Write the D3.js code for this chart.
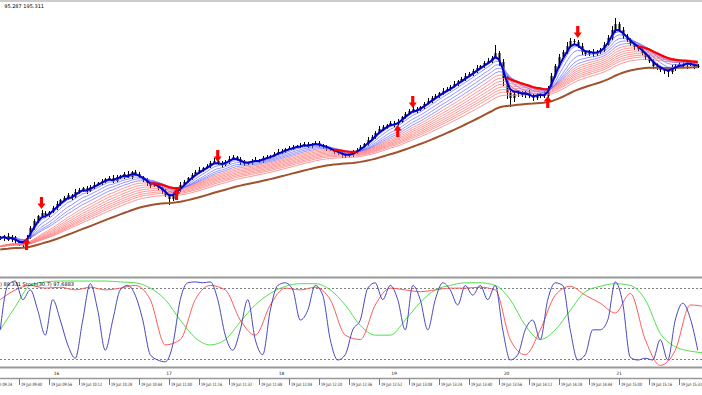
<!DOCTYPE html>
<html>
<head>
<meta charset="utf-8">
<script src="https://cdn.jsdelivr.net/npm/d3@7"></script>
<style>
  body { margin: 0; background: #fff; }
  svg { display: block; }
</style>
</head>
<body>
<script>
var W = 702, H = 395;

// bar closes (2 minute bars starting 09:30)
var closes = [
  195.127,195.129,195.125,195.128,195.124,195.121,195.122,195.127,195.137,195.144,
  195.149,195.152,195.150,195.153,195.157,195.161,195.165,195.167,195.170,195.168,
  195.173,195.175,195.177,195.174,195.178,195.180,195.182,195.184,195.186,195.187,
  195.184,195.188,195.189,195.191,195.188,195.193,195.191,195.188,195.185,195.182,
  195.179,195.181,195.177,195.174,195.170,195.166,195.170,195.175,195.180,195.183,
  195.187,195.190,195.193,195.195,195.197,195.199,195.202,195.204,195.202,195.200,
  195.203,195.206,195.208,195.206,195.203,195.201,195.202,195.204,195.205,195.204,
  195.207,195.208,195.209,195.211,195.213,195.214,195.216,195.217,195.218,195.219,
  195.219,195.221,195.219,195.221,195.222,195.220,195.218,195.217,195.215,195.213,
  195.212,195.210,195.209,195.210,195.212,195.215,195.218,195.221,195.225,195.228,
  195.232,195.236,195.238,195.240,195.242,195.241,195.243,195.248,195.251,195.254,
  195.256,195.255,195.258,195.261,195.264,195.267,195.269,195.272,195.274,195.276,
  195.278,195.281,195.284,195.286,195.289,195.291,195.294,195.297,195.299,195.302,
  195.304,195.307,195.312,195.303,195.287,195.272,195.267,195.271,195.273,195.270,
  195.272,195.269,195.267,195.270,195.271,195.269,195.277,195.289,195.299,195.308,
  195.313,195.319,195.324,195.323,195.319,195.313,195.311,195.313,195.311,195.313,
  195.315,195.320,195.327,195.335,195.341,195.335,195.329,195.325,195.321,195.318,
  195.316,195.312,195.308,195.304,195.299,195.297,195.295,195.294,195.293,195.297,
  195.299,195.301,195.300,195.303,195.301,195.299,195.299
];
// upper / lower wick length above / below the body, in points (0.001)
var wickHi = [
  2,1,3,2,1,2,1,3,2,2, 1,3,2,1,2,3,1,2,2,1, 3,2,1,2,2,3,1,2,1,2, 3,2,1,2,3,1,2,2,1,2,
  1,2,2,1,2,1,2,1,3,2, 1,2,2,3,1,2,2,3,1,2, 2,3,2,1,2,2,1,2,3,1, 2,2,1,2,3,2,1,2,2,1,
  3,2,2,1,2,2,1,2,1,2, 2,1,2,1,3,2,2,1,3,2, 2,3,2,1,2,2,3,1,2,2, 3,2,1,2,3,2,2,1,3,2,
  2,3,1,2,3,2,2,3,1,2, 3,2,8,2,3,2,2,3,2,1, 2,3,2,2,1,3,2,3,2,3, 2,4,3,2,2,3,2,2,3,2,
  2,3,3,4,6,2,3,2,2,3, 2,2,1,2,2,3,2,1,2,3, 2,2,3,2,1,2,2
];
var wickLo = [
  2,3,1,2,3,2,4,2,1,2, 2,1,3,2,1,2,2,1,2,3, 1,2,2,3,1,2,1,2,2,1, 2,1,2,3,1,2,2,1,2,3,
  2,1,2,3,2,6,2,1,2,2, 1,2,1,2,2,1,2,1,2,3, 1,2,1,2,3,2,1,2,1,2, 2,1,2,1,1,2,2,1,2,1,
  2,1,2,2,1,2,2,3,1,2, 2,3,2,1,2,1,2,1,2,1, 2,1,2,2,1,3,2,1,2,1, 2,3,1,2,1,2,1,2,2,1,
  2,1,2,1,2,1,2,2,1,2, 1,2,1,4,8,6,9,4,3,2, 3,2,3,2,3,2,2,1,2,2, 1,2,2,3,2,3,2,2,3,2,
  2,2,1,2,3,2,3,2,2,3, 2,2,3,2,3,2,2,3,5,2, 3,2,2,4,2,3,2
];
var firstBar = "09:30";
var barMinutes = 2;

// signal arrows
var signalBars = [7, 11, 47, 58, 106, 110, 146, 154];
var signalDir = ["up", "down", "up", "down", "up", "down", "up", "down"];
var signalPrice = [195.127, 195.156, 195.177, 195.203, 195.240, 195.257, 195.269, 195.327];

// moving average periods, and their values at the left edge
var bluePeriods = [4, 6, 9, 12, 15];
var blueFast = 3;
var redPeriods = [21, 24, 27, 30, 33, 36, 40];
var redFast = 18;
var brownPeriod = 55;
var redStart = 195.118;
var brownStart = 195.115;

// oscillator (lower window), main line every 4 min, others every 8 min
var oscMain = [
  43,93,98,77,88,65,37,77,54,26, 11,54,95,65,20,54,88,93,82,54,
  15,9,7,26,77,96,97,96,97,77, 37,20,43,77,32,15,65,93,96,88,
  54,65,93,82,32,9,15,43,54,90, 96,77,93,77,43,93,77,43,77,96,
  88,71,93,82,93,77,93,43,9,15, 43,54,32,77,96,93,43,9,15,43,
  43,54,97,73,12,9,11,9,32,9, 54,73,56,20
];
var oscSignal = [
  77,88,93,90,91,88,91,88,90,93, 77,26,32,77,93,88,54,37,71,90,
  88,91,77,37,32,71,90,88,86,88, 90,90,91,88,32,15,43,82,92,82,
  73,62,84,32,3,20,71,69
];
var oscSlow = [
  43,69,93,97,98,98,98,98,97,96, 90,77,54,34,26,32,52,71,84,92,
  95,95,88,71,48,37,37,54,74,88, 93,96,96,93,77,48,32,43,65,86,
  92,95,93,77,39,24,19,17
];
var oscLevels = [90, 10];

var timeTicks = ["09:24","09:40","09:56","10:12","10:28","10:44","11:00","11:16","11:32","11:48",
  "12:04","12:20","12:36","12:52","13:08","13:24","13:40","13:56","14:12","14:28",
  "14:44","15:00","15:16","15:32"];
var hourTicks = ["10:00","11:00","12:00","13:00","14:00","15:00"];
var hourLabels = ["16","17","18","19","20","21"];
var headerText = "95.287 195.311";
var oscText = ") 89.331  Stoch(30,7) 97.6883";

var parseT = d3.timeParse("%H:%M");
var t0 = parseT(firstBar);
function barTime(i, step) { return d3.timeMinute.offset(t0, i * step); }

var x = d3.scaleTime()
  .domain([parseT("09:40"), parseT("15:32")])
  .range([19, 679]);
var y = d3.scaleLinear().domain([195.088, 195.362]).range([277, 3]);
var yo = d3.scaleLinear().domain([0, 100]).range([368, 279.25]);

var svg = d3.select("body").append("svg")
  .attr("width", W).attr("height", H)
  .style("font-family", "Tahoma, 'DejaVu Sans', sans-serif");

var defs = svg.append("defs");
defs.append("clipPath").attr("id", "mainClip").append("rect")
  .attr("x", 0).attr("y", 3).attr("width", W).attr("height", 274);
defs.append("clipPath").attr("id", "oscClip").append("rect")
  .attr("x", 0).attr("y", 279).attr("width", W).attr("height", 88);

// bars
var bars = closes.map(function(c, i) {
  var o = i === 0 ? c : closes[i - 1];
  return {
    t: barTime(i, barMinutes), o: o, c: c,
    h: Math.max(o, c) + wickHi[i] / 1000,
    l: Math.min(o, c) - wickLo[i] / 1000
  };
});

function ema(vals, n, seed) {
  var k = 2 / (n + 1), out = [], prev = seed === undefined ? vals[0] : seed;
  vals.forEach(function(v) {
    prev = v * k + prev * (1 - k);
    out.push(prev);
  });
  return out;
}

var main = svg.append("g").attr("clip-path", "url(#mainClip)");

var candle = main.append("g").selectAll("g").data(bars).enter().append("g");
candle.append("line")
  .attr("x1", function(d) { return Math.round(x(d.t)) + 0.5; })
  .attr("x2", function(d) { return Math.round(x(d.t)) + 0.5; })
  .attr("y1", function(d) { return y(d.h); })
  .attr("y2", function(d) { return y(d.l); })
  .attr("stroke", "#000").attr("stroke-width", 1);
candle.append("rect")
  .attr("x", function(d) { return Math.round(x(d.t)) - 0.5; })
  .attr("y", function(d) { return y(Math.max(d.o, d.c)); })
  .attr("width", 2)
  .attr("height", function(d) { return Math.max(1, Math.abs(y(d.o) - y(d.c))); })
  .attr("fill", "#000");

function maPath(vals, defined) {
  return d3.line()
    .defined(defined || function() { return true; })
    .x(function(d, i) { return x(barTime(i, barMinutes)); })
    .y(function(d) { return y(d); })(vals);
}

redPeriods.forEach(function(n) {
  main.append("path").attr("d", maPath(ema(closes, n, redStart)))
    .attr("fill", "none").attr("stroke", "#ff7b7b").attr("stroke-width", 0.8);
});
main.append("path").attr("d", maPath(ema(closes, brownPeriod, brownStart)))
  .attr("fill", "none").attr("stroke", "#a0522d").attr("stroke-width", 2);

var redFastVals = ema(closes, redFast, redStart);
var blueFastVals = ema(closes, blueFast);

// fast red average: thin always, thick only while it sits above price
main.append("path").attr("d", maPath(redFastVals))
  .attr("fill", "none").attr("stroke", "#ff7b7b").attr("stroke-width", 0.8);
bluePeriods.forEach(function(n) {
  main.append("path").attr("d", maPath(ema(closes, n)))
    .attr("fill", "none").attr("stroke", "#7a7aff").attr("stroke-width", 0.8);
});
main.append("path").attr("d", maPath(blueFastVals))
  .attr("fill", "none").attr("stroke", "#0000d0").attr("stroke-width", 2);
main.append("path")
  .attr("d", maPath(redFastVals, function(d, i) { return d >= blueFastVals[i] - 0.001; }))
  .attr("fill", "none").attr("stroke", "#ff0000").attr("stroke-width", 2.2);

// arrows
signalBars.forEach(function(b, i) {
  var cx = x(barTime(b, barMinutes)), ty = y(signalPrice[i]);
  var s = signalDir[i] === "up" ? 1 : -1;
  var pts = [[cx, ty], [cx + 4, ty + 5.5 * s], [cx + 1.6, ty + 5.5 * s], [cx + 1.6, ty + 12 * s],
    [cx - 1.6, ty + 12 * s], [cx - 1.6, ty + 5.5 * s], [cx - 4, ty + 5.5 * s]];
  main.append("path").attr("d", "M" + pts.join("L") + "Z").attr("fill", "#ff0000");
});

// oscillator window
var osc = svg.append("g").attr("clip-path", "url(#oscClip)");
oscLevels.forEach(function(v) {
  osc.append("line").attr("x1", 0).attr("x2", W)
    .attr("y1", Math.round(yo(v)) + 0.5).attr("y2", Math.round(yo(v)) + 0.5)
    .attr("stroke", "#808080").attr("stroke-dasharray", "2,2");
});
function oscPath(vals, step, color) {
  osc.append("path")
    .attr("d", d3.line().curve(d3.curveMonotoneX)
      .x(function(d, i) { return x(barTime(i, step)); })
      .y(function(d) { return yo(d); })(vals))
    .attr("fill", "none").attr("stroke", color).attr("stroke-width", 1);
}
oscPath(oscSlow, 8, "#50e050");
oscPath(oscSignal, 8, "#ff5a5a");
oscPath(oscMain, 4, "#4848c0");

osc.append("text").attr("x", 0).attr("y", 285.5).attr("font-size", 5)
  .attr("fill", "#000").text(oscText);

// frame lines
[[1, 1], [277.5, 2], [367.5, 2], [378.5, 1.5]].forEach(function(l) {
  svg.append("line").attr("x1", 0).attr("x2", W).attr("y1", l[0]).attr("y2", l[0])
    .attr("stroke", "#999").attr("stroke-width", l[1]);
});

svg.append("text").attr("x", 44).attr("y", 8).attr("font-size", 5)
  .attr("text-anchor", "end").attr("fill", "#000").text(headerText);

// hour labels
hourTicks.forEach(function(h, i) {
  svg.append("text").attr("x", x(parseT(h))).attr("y", 374.5)
    .attr("font-size", 4.5).attr("text-anchor", "middle").attr("fill", "#222")
    .text(hourLabels[i]);
});

// time axis
timeTicks.forEach(function(t) {
  var tx = Math.round(x(parseT(t))) + 0.5;
  svg.append("line").attr("x1", tx).attr("x2", tx).attr("y1", 379).attr("y2", 385)
    .attr("stroke", "#555").attr("stroke-width", 0.8);
  svg.append("text").attr("x", tx + 1.5).attr("y", 385.5)
    .attr("font-size", 4.5).attr("fill", "#222")
    .attr("textLength", 21).attr("lengthAdjust", "spacingAndGlyphs")
    .text("19 Jun " + t);
});
</script>
</body>
</html>
